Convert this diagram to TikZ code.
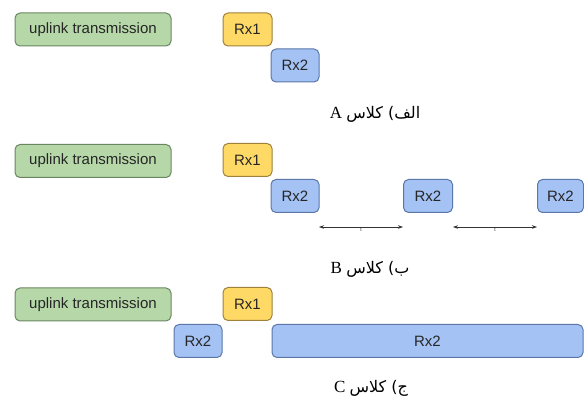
\documentclass[tikz,border=0pt]{standalone}
\usepackage{fontspec}
\setmainfont{Liberation Serif}
\newfontfamily\boxfont{Liberation Sans}
\newfontfamily\arabicfont[Script=Arabic]{DejaVu Sans}
\TeXXeTstate=1
\usetikzlibrary{arrows.meta}
\definecolor{upfill}{HTML}{B6D7A8}
\definecolor{updraw}{HTML}{6A8660}
\definecolor{rxonefill}{HTML}{FFD966}
\definecolor{rxonedraw}{HTML}{9E813A}
\definecolor{rxtwofill}{HTML}{A4C2F4}
\definecolor{rxtwodraw}{HTML}{5A77A8}
\newcommand{\capline}[2]{\beginR{\arabicfont\fontsize{16}{19}\selectfont #1) کلاس} #2\endR}
\begin{document}
\begin{tikzpicture}[x=1pt, y=-1pt,
	box/.style={rounded corners=5pt, line width=1pt, minimum height=33pt, inner sep=0pt, text=black!85, font=\boxfont\fontsize{15}{18}\selectfont},
	upbox/.style={box, fill=upfill, draw=updraw, minimum width=156pt},
	rxone/.style={box, fill=rxonefill, draw=rxonedraw, minimum width=49pt},
	rxtwo/.style={box, fill=rxtwofill, draw=rxtwodraw, minimum width=48pt},
	caption/.style={font=\fontsize{17}{20}\selectfont},
	gap/.style={{Stealth[length=5pt,width=3.5pt]}-{Stealth[length=5pt,width=3.5pt]}, line width=0.6pt, black!80}]
	\useasboundingbox (0, 0) rectangle (584, 403);
	\node[upbox] (upA) at (93, 29.5) {uplink transmission};
	\node[rxone] (rx1A) at (247.5, 29.5) {Rx1};
	\node[rxtwo] (rx2A) at (295, 65.5) {Rx2};
	\node[caption] (capA) at (375, 114) {\capline{الف}{A}};
	\node[upbox] (upB) at (93, 161) {uplink transmission};
	\node[rxone] (rx1B) at (247.5, 160) {Rx1};
	\node[rxtwo] (rx2Ba) at (295, 196) {Rx2};
	\node[rxtwo, minimum width=49pt] (rx2Bb) at (428, 196) {Rx2};
	\node[rxtwo, minimum width=46pt] (rx2Bc) at (560.5, 196) {Rx2};
	\coordinate (tBa) at (319, 227);
	\coordinate (tBb) at (403, 227);
	\coordinate (tBc) at (453, 227);
	\coordinate (tBd) at (537, 227);
	\draw[gap] (tBa) -- node[below=0.5pt, inner sep=0pt, font=\boxfont\fontsize{5}{6}\selectfont] (tlA) {t} (tBb);
	\draw[gap] (tBc) -- node[below=0.5pt, inner sep=0pt, font=\boxfont\fontsize{5}{6}\selectfont] (tlB) {t} (tBd);
	\node[caption] (capB) at (370, 269) {\capline{ب}{B}};
	\node[upbox] (upC) at (93, 304.5) {uplink transmission};
	\node[rxone] (rx1C) at (247.5, 304) {Rx1};
	\node[rxtwo] (rx2Ca) at (198, 341) {Rx2};
	\node[rxtwo, minimum width=311pt] (rx2Cb) at (427.5, 341) {Rx2};
	\node[caption] (capC) at (371, 388) {\capline{ج}{C}};
\end{tikzpicture}
\end{document}
